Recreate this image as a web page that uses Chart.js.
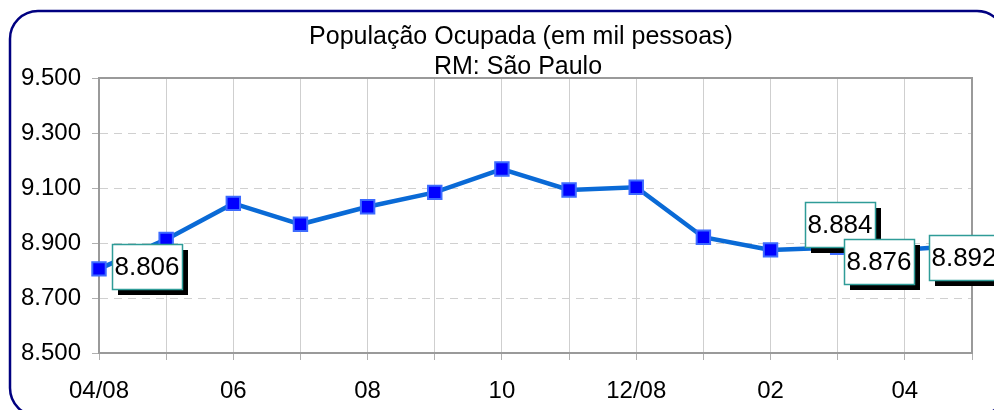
<!DOCTYPE html>
<html>
<head>
<meta charset="utf-8">
<script src="https://cdn.jsdelivr.net/npm/chart.js@4"></script>
<style>
  body { margin: 0; background: #fff; }
  canvas { display: block; }
</style>
</head>
<body>
<canvas id="myChart" width="994" height="410"></canvas>
<script>
var categories = ['04/08', '05', '06', '07', '08', '09', '10', '11', '12/08', '01', '02', '03', '04', '05'];
var ocupada = [8806, 8913, 9044, 8968, 9032, 9084, 9169, 9093, 9103, 8921, 8875, 8884, 8876, 8892];
var yMin = 8500, yMax = 9500, yStep = 200;
var titleLines = ['População Ocupada (em mil pessoas)', 'RM: São Paulo'];
var labeledPoints = [0, 11, 12, 13];
// box centre offsets from the point, like the moved excel labels
var labelShift = { 0: [48, -2], 11: [2, -23], 12: [-26, 12], 13: [-8, 12] };

var FONT = '"Liberation Sans", Arial, sans-serif';

function fmt(v) {
  return (v / 1000).toFixed(3);
}

var frame = {
  id: 'frame',
  beforeDraw: function(chart) {
    var c = chart.ctx;
    c.save();
    c.fillStyle = '#fff';
    c.fillRect(0, 0, chart.width, chart.height);
    c.strokeStyle = '#000080';
    c.lineWidth = 2.5;
    c.beginPath();
    c.roundRect(10, 11, 995, 405, 28);
    c.stroke();
    // title
    c.fillStyle = '#000';
    c.font = '25px ' + FONT;
    c.textAlign = 'center';
    c.textBaseline = 'middle';
    c.fillText(titleLines[0], 521, 37);
    c.fillText(titleLines[1], 518, 67);
    c.restore();
  },
  beforeDatasetsDraw: function(chart) {
    var a = chart.chartArea, c = chart.ctx;
    c.save();
    c.strokeStyle = '#9a9a9a';
    c.lineWidth = 2;
    c.strokeRect(a.left, a.top, a.right - a.left, a.bottom - a.top);
    c.restore();
  },
  afterDatasetsDraw: function(chart) {
    var c = chart.ctx;
    var pts = chart.getDatasetMeta(0).data;
    c.save();
    c.font = '26px ' + FONT;
    c.textAlign = 'center';
    c.textBaseline = 'middle';
    labeledPoints.forEach(function(i) {
      var p = pts[i];
      var cx = p.x + labelShift[i][0], cy = p.y + labelShift[i][1];
      var w = 70, h = 45;
      var x0 = Math.round(cx - w / 2), y0 = Math.round(cy - h / 2);
      c.fillStyle = '#000';
      c.fillRect(x0 + 6, y0 + 6, w, h);
      c.fillStyle = '#fff';
      c.fillRect(x0, y0, w, h);
      c.strokeStyle = '#2f9c98';
      c.lineWidth = 1.5;
      c.strokeRect(x0 + 0.5, y0 + 0.5, w, h);
      c.fillStyle = '#000';
      c.fillText(fmt(ocupada[i]), x0 + w / 2, y0 + h / 2 + 1);
    });
    c.restore();
  }
};

var ctx = document.getElementById('myChart').getContext('2d');

new Chart(ctx, {
  type: 'line',
  data: {
    labels: categories,
    datasets: [{
      data: ocupada,
      borderColor: '#0a6ad6',
      borderWidth: 4.5,
      tension: 0,
      pointStyle: 'rect',
      pointRadius: 9.5,
      pointBorderWidth: 2,
      pointBackgroundColor: '#0000ff',
      pointBorderColor: '#3d6bff',
      clip: false
    }]
  },
  options: {
    responsive: false,
    animation: false,
    layout: { padding: { left: 0, right: 22, top: 78, bottom: 0 } },
    plugins: {
      legend: { display: false },
      title: { display: false },
      tooltip: { enabled: false }
    },
    scales: {
      x: {
        offset: false,
        grid: { color: '#cfcfcf', lineWidth: 1, tickLength: 7, tickColor: '#b0b0b0', offset: false },
        border: { color: '#9a9a9a', width: 2 },
        ticks: {
          autoSkip: false,
          maxRotation: 0,
          color: '#000',
          padding: 17,
          font: { family: FONT, size: 24 },
          callback: function(v, i) { return i % 2 === 0 ? categories[i] : ''; }
        },
        afterFit: function(s) { s.height = 57; }
      },
      y: {
        min: yMin,
        max: yMax,
        grid: { color: '#d0d0d0', lineWidth: 1, tickLength: 7, tickColor: '#b0b0b0' },
        border: { color: '#9a9a9a', width: 2, dash: [8, 6] },
        ticks: {
          stepSize: yStep,
          color: '#000',
          padding: 11,
          font: { family: FONT, size: 24 },
          callback: function(v) { return fmt(v); }
        },
        afterFit: function(s) { s.width = 99; }
      }
    }
  },
  plugins: [frame]
});
</script>
</body>
</html>
